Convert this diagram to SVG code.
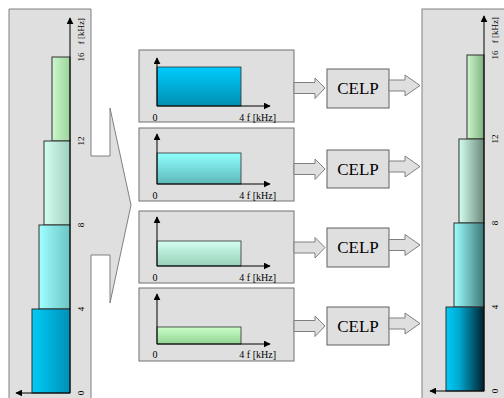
<svg xmlns="http://www.w3.org/2000/svg" width="504" height="398" viewBox="0 0 504 398">
<style>
.panel{fill:#dfdfdf;stroke:#808080;stroke-width:1}
.box{fill:#dfdfdf;stroke:#707070;stroke-width:1}
.celp{fill:#dfdfdf;stroke:#606060;stroke-width:1}
.barr{fill:#dfdfdf;stroke:#808080;stroke-width:1}
.ax{stroke:#000;stroke-width:1;fill:none}
.bar{stroke:#303030;stroke-width:1}
.band{stroke:#303030;stroke-width:0.8}
.t{font-family:"Liberation Serif","Times New Roman",serif;fill:#000}
.s{font-size:10px}
.r{font-size:9px}
.c{font-size:17px}
</style>
<defs>
<marker id="ah" viewBox="0 0 10 10" refX="9" refY="5" markerWidth="7" markerHeight="7" markerUnits="userSpaceOnUse" orient="auto"><path d="M0,0 L10,5 L0,10 z" fill="#000"/></marker>
<linearGradient id="g1" x1="0" y1="0" x2="0" y2="1"><stop offset="0" stop-color="#00ccff"/><stop offset="1" stop-color="#008fb0"/></linearGradient>
<linearGradient id="g2" x1="0" y1="0" x2="0" y2="1"><stop offset="0" stop-color="#90ffff"/><stop offset="1" stop-color="#5fb8b8"/></linearGradient>
<linearGradient id="g3" x1="0" y1="0" x2="0" y2="1"><stop offset="0" stop-color="#d2fff0"/><stop offset="1" stop-color="#98d0b8"/></linearGradient>
<linearGradient id="g4" x1="0" y1="0" x2="0" y2="1"><stop offset="0" stop-color="#c8ffc8"/><stop offset="1" stop-color="#94d494"/></linearGradient>
<linearGradient id="l4" x1="0" y1="0" x2="1" y2="0"><stop offset="0" stop-color="#00ccf8"/><stop offset="1" stop-color="#0090b8"/></linearGradient>
<linearGradient id="l8" x1="0" y1="0" x2="1" y2="0"><stop offset="0" stop-color="#a0ffff"/><stop offset="1" stop-color="#6cc4c4"/></linearGradient>
<linearGradient id="l12" x1="0" y1="0" x2="1" y2="0"><stop offset="0" stop-color="#d2fff0"/><stop offset="1" stop-color="#a0d0c0"/></linearGradient>
<linearGradient id="l16" x1="0" y1="0" x2="1" y2="0"><stop offset="0" stop-color="#ccf8cc"/><stop offset="1" stop-color="#9cd49c"/></linearGradient>
<linearGradient id="r4" x1="0" y1="0" x2="1" y2="0"><stop offset="0" stop-color="#00ccf8"/><stop offset="0.35" stop-color="#00a8d0"/><stop offset="1" stop-color="#00202c"/></linearGradient>
<linearGradient id="r8" x1="0" y1="0" x2="1" y2="0"><stop offset="0" stop-color="#a0ffff"/><stop offset="1" stop-color="#3c7878"/></linearGradient>
<linearGradient id="r12" x1="0" y1="0" x2="1" y2="0"><stop offset="0" stop-color="#d2fff0"/><stop offset="1" stop-color="#6c8878"/></linearGradient>
<linearGradient id="r16" x1="0" y1="0" x2="1" y2="0"><stop offset="0" stop-color="#ccf8cc"/><stop offset="1" stop-color="#80b080"/></linearGradient>
</defs>
<rect width="504" height="398" fill="#fff"/>

<g id="input-spectrum">
<path class="panel" d="M9,9 H91 V156 H110 V108 L131,205 L110,303 V255 H91 V402 H9 Z"/>
<rect class="bar" x="52" y="57" width="18" height="84" fill="url(#l16)"/>
<rect class="bar" x="44" y="141" width="26" height="84" fill="url(#l12)"/>
<rect class="bar" x="39" y="225" width="31" height="84" fill="url(#l8)"/>
<rect class="bar" x="32" y="309" width="38" height="84" fill="url(#l4)"/>
<line class="ax" x1="70" y1="393" x2="70" y2="18" marker-end="url(#ah)"/>
<line class="ax" x1="70" y1="393" x2="16" y2="393" marker-end="url(#ah)"/>
<text class="t r" text-anchor="middle" transform="translate(84,31) rotate(-90)">f [kHz]</text>
<text class="t r" text-anchor="middle" transform="translate(84,57) rotate(-90)">16</text>
<text class="t r" text-anchor="middle" transform="translate(84,141) rotate(-90)">12</text>
<text class="t r" text-anchor="middle" transform="translate(84,225) rotate(-90)">8</text>
<text class="t r" text-anchor="middle" transform="translate(84,309) rotate(-90)">4</text>
<text class="t r" text-anchor="middle" transform="translate(84,393) rotate(-90)">0</text>
</g>

<g id="output-spectrum">
<rect class="panel" x="422" y="9" width="90" height="395"/>
<rect class="bar" x="467" y="55" width="17" height="84" fill="url(#r16)"/>
<rect class="bar" x="459" y="139" width="25" height="84" fill="url(#r12)"/>
<rect class="bar" x="454" y="223" width="30" height="84" fill="url(#r8)"/>
<rect class="bar" x="446" y="307" width="38" height="84" fill="url(#r4)"/>
<line class="ax" x1="484" y1="391" x2="484" y2="16" marker-end="url(#ah)"/>
<line class="ax" x1="484" y1="391" x2="430" y2="391" marker-end="url(#ah)"/>
<text class="t r" text-anchor="middle" transform="translate(498,30) rotate(-90)">f [kHz]</text>
<text class="t r" text-anchor="middle" transform="translate(498,55) rotate(-90)">16</text>
<text class="t r" text-anchor="middle" transform="translate(498,139) rotate(-90)">12</text>
<text class="t r" text-anchor="middle" transform="translate(498,223) rotate(-90)">8</text>
<text class="t r" text-anchor="middle" transform="translate(498,307) rotate(-90)">4</text>
<text class="t r" text-anchor="middle" transform="translate(498,391) rotate(-90)">0</text>
</g>

<g id="band1">
<rect class="box" x="139" y="50" width="155" height="72"/>
<rect class="band" x="157" y="67" width="84" height="39" fill="url(#g1)"/>
<line class="ax" x1="157" y1="106" x2="157" y2="58" marker-end="url(#ah)"/>
<line class="ax" x1="157" y1="106" x2="270" y2="106" marker-end="url(#ah)"/>
<text class="t s" x="155" y="121" text-anchor="middle">0</text>
<text class="t s" x="276" y="121" text-anchor="end">4 f [kHz]</text>
</g>
<g id="band2">
<rect class="box" x="139" y="128" width="155" height="73"/>
<rect class="band" x="157" y="153" width="84" height="31" fill="url(#g2)"/>
<line class="ax" x1="157" y1="184" x2="157" y2="134" marker-end="url(#ah)"/>
<line class="ax" x1="157" y1="184" x2="270" y2="184" marker-end="url(#ah)"/>
<text class="t s" x="155" y="199" text-anchor="middle">0</text>
<text class="t s" x="276" y="199" text-anchor="end">4 f [kHz]</text>
</g>
<g id="band3">
<rect class="box" x="139" y="211" width="155" height="72"/>
<rect class="band" x="157" y="241" width="84" height="25" fill="url(#g3)"/>
<line class="ax" x1="157" y1="266" x2="157" y2="217" marker-end="url(#ah)"/>
<line class="ax" x1="157" y1="266" x2="270" y2="266" marker-end="url(#ah)"/>
<text class="t s" x="155" y="281" text-anchor="middle">0</text>
<text class="t s" x="276" y="281" text-anchor="end">4 f [kHz]</text>
</g>
<g id="band4">
<rect class="box" x="139" y="288" width="155" height="73"/>
<rect class="band" x="157" y="327" width="84" height="17" fill="url(#g4)"/>
<line class="ax" x1="157" y1="344" x2="157" y2="294" marker-end="url(#ah)"/>
<line class="ax" x1="157" y1="344" x2="270" y2="344" marker-end="url(#ah)"/>
<text class="t s" x="155" y="358" text-anchor="middle">0</text>
<text class="t s" x="276" y="358" text-anchor="end">4 f [kHz]</text>
</g>

<g id="celp1">
<rect class="celp" x="327" y="69" width="62" height="39"/>
<text class="t c" x="358" y="94" text-anchor="middle">CELP</text>
</g>
<g id="celp2">
<rect class="celp" x="327" y="150" width="62" height="38"/>
<text class="t c" x="358" y="175" text-anchor="middle">CELP</text>
</g>
<g id="celp3">
<rect class="celp" x="327" y="228" width="62" height="39"/>
<text class="t c" x="358" y="253" text-anchor="middle">CELP</text>
</g>
<g id="celp4">
<rect class="celp" x="327" y="307" width="62" height="38"/>
<text class="t c" x="358" y="332" text-anchor="middle">CELP</text>
</g>

<g id="connectors">
<path class="barr" d="M294,82.5 H315 V78 L325,88 L315,98.5 V93.5 H294 Z"/>
<path class="barr" d="M389,80 H405 V75 L420,85.5 L405,96 V91 H389 Z"/>
<path class="barr" d="M294,163.5 H315 V159 L325,169 L315,179.5 V174.5 H294 Z"/>
<path class="barr" d="M389,161 H405 V156 L420,166.5 L405,177 V172 H389 Z"/>
<path class="barr" d="M294,242 H315 V237.5 L325,247.5 L315,258 V253 H294 Z"/>
<path class="barr" d="M389,239.5 H405 V234.5 L420,245 L405,255.5 V250.5 H389 Z"/>
<path class="barr" d="M294,320.5 H315 V316 L325,326 L315,336.5 V331.5 H294 Z"/>
<path class="barr" d="M389,318 H405 V313 L420,323.5 L405,334 V329 H389 Z"/>
</g>
</svg>
